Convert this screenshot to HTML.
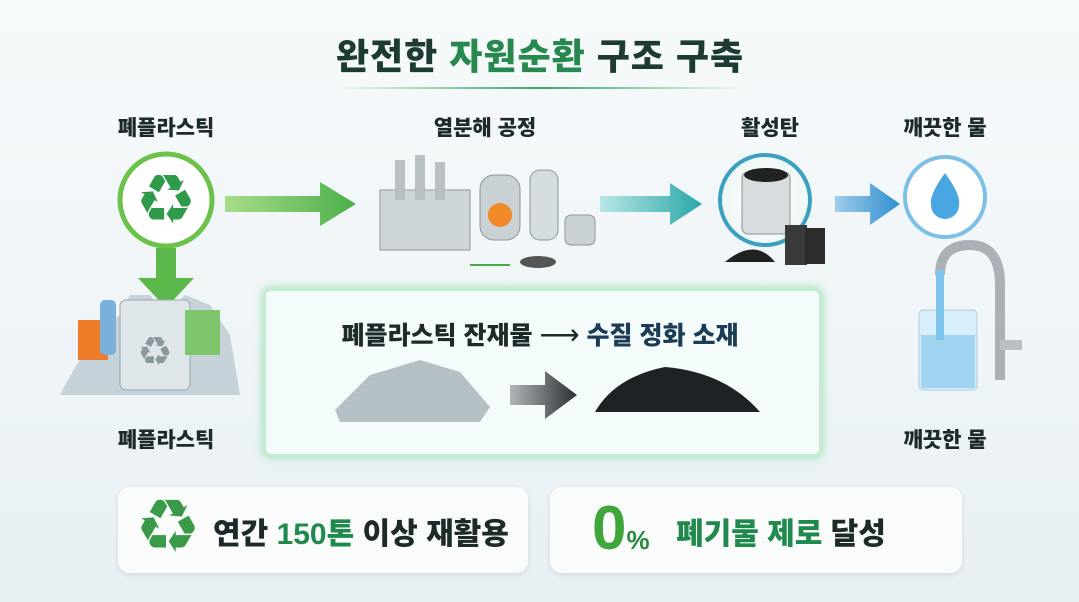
<!DOCTYPE html>
<html><head><meta charset="utf-8"><style>
*{margin:0;padding:0;box-sizing:border-box}
body{width:1079px;height:602px;overflow:hidden;position:relative;
background:linear-gradient(180deg,#f7fafb 0%,#eef4f7 60%,#e8f0f4 100%);
font-family:"Liberation Sans","Noto Sans CJK KR",sans-serif;color:#1d2a2a}
.t{position:absolute;font-weight:900;white-space:nowrap;transform:translateX(-50%)}
.abs{position:absolute}
.g{color:#1f8a4c}
</style></head><body>
<div class="t" style="left:540px;top:28px;font-size:36px;color:#1e3a34;letter-spacing:1px">완전한 <span style="color:#27894f">자원순환</span> 구조 구축</div>
<div class="abs" style="left:335px;top:87px;width:410px;height:2px;background:linear-gradient(90deg,rgba(60,170,90,0),#3aa866,rgba(60,170,200,0))"></div>

<div class="t" style="left:166px;top:112px;font-size:21px">폐플라스틱</div>
<div class="t" style="left:485px;top:112px;font-size:21px">열분해 공정</div>
<div class="t" style="left:770px;top:112px;font-size:21px">활성탄</div>
<div class="t" style="left:945px;top:112px;font-size:21px">깨끗한 물</div>
<div class="t" style="left:166px;top:424px;font-size:21px">폐플라스틱</div>
<div class="t" style="left:945px;top:424px;font-size:21px">깨끗한 물</div>

<svg class="abs" style="left:0;top:0" width="1079" height="602">
<defs>
<linearGradient id="ga" x1="0" x2="1"><stop offset="0" stop-color="#a8dc8a"/><stop offset="1" stop-color="#4cb04a"/></linearGradient>
<linearGradient id="ta" x1="0" x2="1"><stop offset="0" stop-color="#b9e6e6"/><stop offset="1" stop-color="#2aa6a8"/></linearGradient>
<linearGradient id="ba" x1="0" x2="1"><stop offset="0" stop-color="#9fcdea"/><stop offset="1" stop-color="#2f8fd0"/></linearGradient>
<linearGradient id="da" x1="0" x2="1"><stop offset="0" stop-color="#b0b6b8"/><stop offset="1" stop-color="#2b3133"/></linearGradient>
<radialGradient id="cg"><stop offset="0" stop-color="#fff"/><stop offset="1" stop-color="#eef6f6"/></radialGradient>
<filter id="gl"><feGaussianBlur stdDeviation="4"/></filter>
</defs>
<circle cx="166" cy="200" r="46" fill="#fff" stroke="#6cc24a" stroke-width="5"/>
<text x="166" y="218" font-size="52" text-anchor="middle" fill="#2e9a4a">♻</text>
<path d="M156 248 h20 v30 h18 l-28 30 l-28 -30 h18z" fill="#5cb84a"/>
<path d="M225 196 h95 v-14 l36 22 l-36 22 v-14 h-95z" fill="url(#ga)"/>
<path d="M600 196 h70 v-13 l32 21 l-32 21 v-13 h-70z" fill="url(#ta)"/>
<path d="M835 196 h35 v-13 l30 21 l-30 21 v-13 h-35z" fill="url(#ba)"/>
<circle cx="765" cy="200" r="45" fill="url(#cg)" stroke="#3aa0c0" stroke-width="4"/>
<rect x="742" y="172" width="48" height="62" rx="6" fill="#d7dcdf" stroke="#8a9296"/>
<ellipse cx="766" cy="175" rx="22" ry="7" fill="#222"/>
<path d="M725 262 q30 -25 50 0z" fill="#222"/>
<rect x="785" y="225" width="22" height="40" fill="#3a3a3a"/><rect x="805" y="228" width="20" height="36" fill="#2c2c2c"/>
<circle cx="945" cy="197" r="40" fill="#fff" stroke="#7cc0e6" stroke-width="4"/>
<path d="M945 173 q-16 22 -14 32 a14 14 0 0 0 28 0 q2 -10 -14 -32z" fill="#4aa6e0"/>
<path d="M1000 380 v-95 q0 -40 -30 -40 q-30 0 -30 30" fill="none" stroke="#a9b1b6" stroke-width="10"/>
<rect x="1000" y="340" width="22" height="10" fill="#b8c0c4"/>
<rect x="919" y="310" width="58" height="80" rx="4" fill="#d8eef8" stroke="#b4ccd8"/>
<rect x="921" y="335" width="54" height="53" fill="#9fd3f0"/>
<rect x="936" y="270" width="8" height="70" fill="#7ec3ec"/>
<rect x="380" y="190" width="90" height="60" fill="#cfd6da" stroke="#8b969b"/>
<rect x="395" y="160" width="10" height="40" fill="#b8c0c4"/><rect x="415" y="155" width="10" height="45" fill="#b8c0c4"/><rect x="435" y="162" width="10" height="38" fill="#b8c0c4"/>
<rect x="480" y="175" width="40" height="65" rx="14" fill="#c9d1d5" stroke="#8b969b"/>
<circle cx="500" cy="215" r="12" fill="#f28a2a"/>
<rect x="530" y="170" width="28" height="70" rx="10" fill="#d4dcdf" stroke="#8b969b"/>
<rect x="565" y="215" width="30" height="30" rx="6" fill="#c9d1d5" stroke="#8b969b"/>
<ellipse cx="538" cy="262" rx="18" ry="6" fill="#555"/>
<path d="M470 265 h40" stroke="#4aa84a" stroke-width="2"/>
<rect x="265" y="290" width="555" height="165" rx="6" fill="none" stroke="#9fe0b0" stroke-width="6" filter="url(#gl)"/>
<rect x="265" y="290" width="555" height="165" rx="6" fill="#f4fbfb" stroke="#c6ecd0" stroke-width="2"/>
<path d="M60 395 q30 -60 60 -80 l10 -20 l20 0 l15 20 l20 -20 l25 10 l20 30 l10 60z" fill="#c5d2da"/>
<rect x="120" y="300" width="70" height="90" rx="6" fill="#dfe6ea" stroke="#9ca8ae"/>
<text x="155" y="362" font-size="30" text-anchor="middle" fill="#8a979d">♻</text>
<rect x="78" y="320" width="30" height="40" fill="#ee7d2a"/>
<rect x="185" y="310" width="35" height="45" fill="#7ec66c"/>
<rect x="100" y="300" width="16" height="55" rx="5" fill="#7ab0da"/>
<path d="M335 410 l35 -35 l50 -15 l40 12 l30 35 l-10 15 l-140 0z" fill="#b4bfc6"/>
<path d="M510 385 h35 v-14 l32 24 l-32 24 v-14 h-35z" fill="url(#da)"/>
<path d="M595 412 q20 -35 70 -45 q60 5 95 45z" fill="#1f2224"/>
</svg>

<div class="t" style="left:540px;top:316px;font-size:25px;color:#1c2a2a">폐플라스틱 잔재물 <span style="font-weight:400;font-size:28px">⟶</span> <span style="color:#1c3c56">수질 정화 소재</span></div>

<div class="abs" style="left:118px;top:487px;width:410px;height:86px;background:#fafcfc;border-radius:12px;box-shadow:0 2px 6px rgba(0,0,0,.1)"></div>
<div class="abs" style="left:550px;top:487px;width:412px;height:86px;background:#fafcfc;border-radius:12px;box-shadow:0 2px 6px rgba(0,0,0,.1)"></div>
<div class="abs" style="left:140px;top:497px;font-size:56px;color:#3b9a4a;line-height:60px">♻</div>
<div class="abs" style="left:213px;top:509px;font-size:30px;font-weight:900;white-space:nowrap">연간 <span class="g">150톤</span> 이상 재활용</div>
<div class="abs" style="left:592px;top:496px;font-size:62px;font-weight:900;color:#3fa63c;line-height:66px">0<span style="font-size:26px;color:#2b8a3e">%</span></div>
<div class="abs" style="left:676px;top:509px;font-size:30px;font-weight:900;white-space:nowrap"><span class="g">폐기물 제로</span> 달성</div>
</body></html>
